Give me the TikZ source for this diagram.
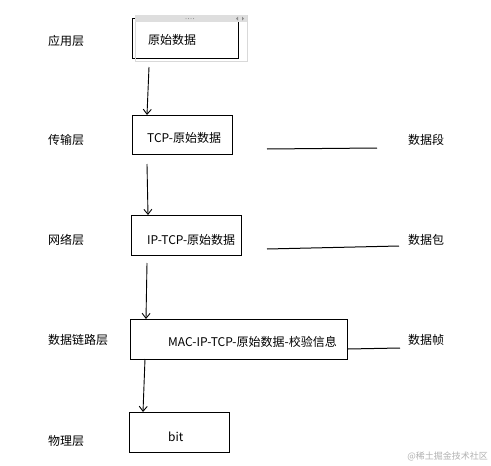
\documentclass[tikz,border=0pt]{standalone}
\usepackage{fontspec}
\setmainfont{Noto Sans CJK SC}
\usetikzlibrary{arrows.meta}
\begin{document}
\begin{tikzpicture}[x=1pt,y=-1pt,
  box/.style={draw=black,line width=1pt,rectangle,inner sep=0pt,anchor=north west},
  txt/.style={inner sep=0pt,anchor=west,font=\fontsize{12}{14}\selectfont},
  arr/.style={draw=black,line width=0.9pt,-{Straight Barb[length=5pt,width=8pt]}},
  ln/.style={draw=black,line width=1pt}]
\useasboundingbox[fill=white] (0,0) rectangle (491,466);
% left layer labels
\node[txt] (l1) at (48,41) {应用层};
\node[txt] (l2) at (48,140) {传输层};
\node[txt] (l3) at (48,240) {网络层};
\node[txt] (l4) at (48,340) {数据链路层};
\node[txt] (l5) at (48,441) {物理层};
% boxes
\node[box,minimum width=106pt,minimum height=40pt] (b1) at (132,18) {};
\node[box,minimum width=100pt,minimum height=39pt] (b2) at (132,115) {};
\node[box,minimum width=110pt,minimum height=40pt] (b3) at (131,215) {};
\node[box,minimum width=217pt,minimum height=40pt] (b4) at (130,319) {};
\node[box,minimum width=100pt,minimum height=40pt] (b5) at (129,412) {};
% window chrome of first box
\draw[draw=black!15,line width=0.5pt] (135,15) rectangle (247,61);
\fill[black!13] (135,15) rectangle (247,22);
\foreach \i in {0,1,2,3} \fill[black!45] (186+2.5*\i,18.5) circle (0.5);
\fill[black!45] (238,16.5) -- (238,20.5) -- (236,18.5) -- cycle;
\fill[black!45] (242,16.5) -- (242,20.5) -- (244,18.5) -- cycle;
% box texts
\node[txt] (t1) at (148,40) {原始数据};
\node[txt] (t2) at (147,138) {TCP-原始数据};
\node[txt] (t3) at (147,240) {IP-TCP-原始数据};
\node[txt] (t4) at (168,342) {MAC-IP-TCP-原始数据-校验信息};
\node[txt] (t5) at (168,437) {bit};
% right labels
\node[txt] (r2) at (408,140) {数据段};
\node[txt] (r3) at (408,240) {数据包};
\node[txt] (r4) at (408,340) {数据帧};
% arrows
\coordinate (a1) at (149,67);
\coordinate (a2) at (147,164);
\coordinate (a3) at (147,263);
\coordinate (a4) at (145,359);
\draw[arr] (a1) -- (147,0 |- b2.north);
\draw[arr] (a2) -- (148,0 |- b3.north);
\draw[arr] (a3) -- (146,0 |- b4.north);
\draw[arr] (a4) -- (143,0 |- b5.north);
% lines toward right labels
\coordinate (s2) at (267,149);
\coordinate (e2) at (377,148);
\draw[ln] (s2) -- (e2);
\coordinate (s3) at (267,249);
\coordinate (e3) at (399,246);
\draw[ln] (s3) -- (e3);
\coordinate (e4) at (400,348);
\draw[ln] (b4.east |- 0,349) -- (e4);
% watermark
\node[inner sep=0pt,anchor=east,text=black!30,font=\fontsize{9}{10}\selectfont] (wm) at (488,456) {@稀土掘金技术社区};
\end{tikzpicture}
\end{document}
